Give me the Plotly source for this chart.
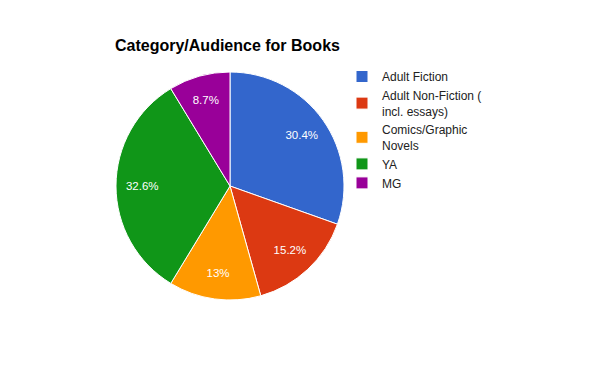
import plotly.graph_objects as go

categories = ["Adult Fiction", "Adult Non-Fiction (<br>incl. essays)", "Comics/Graphic<br>Novels", "YA", "MG"]
counts = [14, 7, 6, 15, 4]
colors = ["#3366cc", "#dc3912", "#ff9900", "#109618", "#990099"]

total = sum(counts)
labels_text = [f"{round(c / total * 100, 1):g}%" for c in counts]

W, H = 600, 371
OFF = 8  # page body margin

def px_x(x):
    return (x - OFF) / W

def px_y(y):
    return 1 - (y - OFF) / H

domain = dict(x=[px_x(116), px_x(344)], y=[px_y(300), px_y(72)])

fig = go.Figure()
# visible slices
fig.add_trace(go.Pie(
    labels=categories,
    values=counts,
    textinfo="none",
    marker=dict(colors=colors, line=dict(color="white", width=1)),
    sort=False,
    direction="clockwise",
    rotation=0,
    domain=domain,
    hoverinfo="skip",
))
# transparent ring carrying the percentage labels further out
fig.add_trace(go.Pie(
    labels=categories,
    values=counts,
    text=labels_text,
    textinfo="text",
    textposition="inside",
    insidetextorientation="horizontal",
    insidetextfont=dict(color="white", size=11.5, family="Liberation Sans, Arial"),
    marker=dict(colors=["rgba(0,0,0,0)"] * len(counts), line=dict(width=0)),
    hole=0.54,
    sort=False,
    direction="clockwise",
    rotation=0,
    domain=domain,
    hoverinfo="skip",
    showlegend=False,
))

fig.update_layout(
    width=W, height=H,
    margin=dict(l=0, r=0, t=0, b=0),
    paper_bgcolor="white",
    plot_bgcolor="white",
    font=dict(family="Liberation Sans, Arial", color="#222222", size=12),
    title=dict(
        text="<b>Category/Audience for Books</b>",
        x=px_x(115), xanchor="left", xref="paper",
        y=px_y(45), yanchor="middle", yref="container",
        font=dict(size=16, color="#000000", family="Liberation Sans, Arial"),
    ),
    legend=dict(
        x=px_x(342), xanchor="left",
        y=px_y(62), yanchor="top",
        font=dict(size=12, color="#222222"),
        bgcolor="rgba(0,0,0,0)",
        tracegroupgap=0,
    ),
    showlegend=True,
)

fig.write_html("out.html")
